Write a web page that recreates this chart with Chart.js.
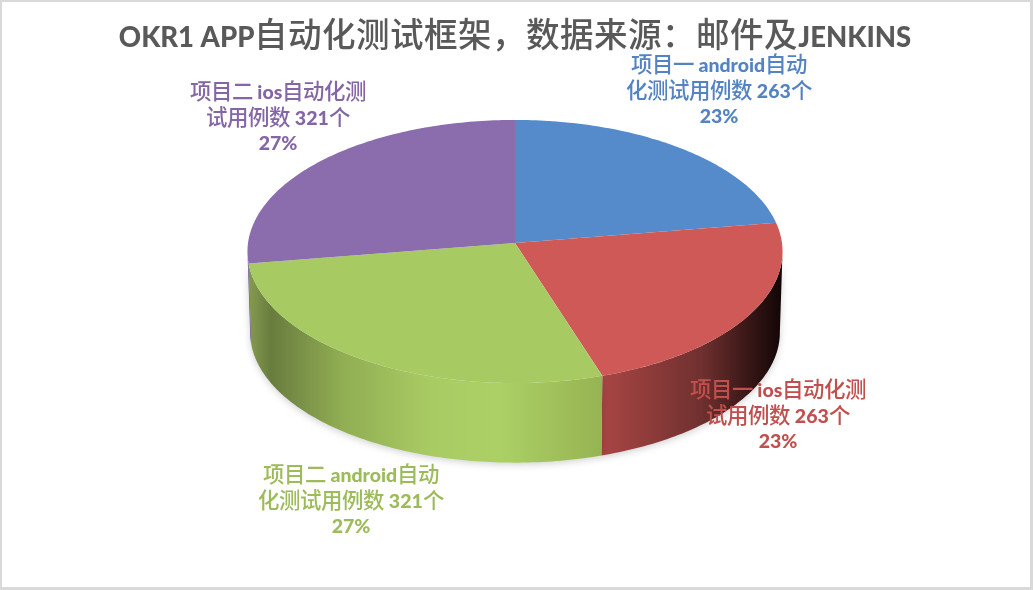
<!DOCTYPE html>
<html>
<head>
<meta charset="utf-8">
<style>
  /* CJK glyphs stay lighter and larger next to the heavy latin text */
  @font-face {
    font-family: "CjkBody";
    src: local("Noto Sans CJK SC Medium"), local("Noto Sans CJK SC");
    font-weight: 700;
    size-adjust: 110%;
    unicode-range: U+2E80-9FFF, U+FF00-FFEF;
  }
  @font-face {
    font-family: "CjkTitle";
    src: local("Noto Sans CJK SC Medium"), local("Noto Sans CJK SC");
    font-weight: 700;
    size-adjust: 122%;
    unicode-range: U+2E80-9FFF, U+FF00-FFEF;
  }
  html, body { margin: 0; padding: 0; background: #fff; }
  #frame {
    position: absolute; left: 0; top: 0; width: 1033px; height: 590px; box-sizing: border-box;
    border-style: solid; border-color: #d9d9d9; border-width: 2px 3px 3px 2px;
  }
  canvas { position: absolute; left: 0; top: 0; }
</style>
</head>
<body>
<div id="frame"></div>
<canvas id="pieChart" width="1033" height="590"></canvas>
<script src="https://cdn.jsdelivr.net/npm/chart.js@4/dist/chart.umd.min.js"></script>
<script>
const titleText = "OKR1 APP自动化测试框架，数据来源：邮件及JENKINS";
const categories = ["项目一 android自动化测试用例数", "项目一 ios自动化测试用例数", "项目二 android自动化测试用例数", "项目二 ios自动化测试用例数"];
const counts = [263, 263, 321, 321];
const percents = ["23%", "23%", "27%", "27%"];
const labelLines = [
  ["项目一 android自动", "化测试用例数 263个", "23%"],
  ["项目一 ios自动化测", "试用例数 263个", "23%"],
  ["项目二 android自动", "化测试用例数 321个", "27%"],
  ["项目二 ios自动化测", "试用例数 321个", "27%"],
];
const topColors = ["#558bcb", "#ce5957", "#a8ca63", "#8b6cad"];
const labelColors = ["#5383c3", "#c0504d", "#9dbb5a", "#8466a6"];

// rim shading per slice, stops are fractions of the pie width
const sideShades = [
  [],
  [[0.66, "#aa4644"], [0.85, "#6f302f"], [0.96, "#2a1010"], [1, "#120606"]],
  [[0.005, "#84994f"], [0.043, "#687c3e"], [0.174, "#90ad53"], [0.342, "#a9cb63"], [0.47, "#acd066"], [0.66, "#97b452"]],
  [[0, "#6a5282"], [1, "#6a5282"]],
];

// fake perspective: squash the flat circle and enlarge what is near the viewer
const tilt = { stretch: 2.038, near: 0.0646, depth: 81, bottomScale: 0.99 };

function project(arc, angle, scale, dy) {
  const u = Math.cos(angle), v = Math.sin(angle);
  const w = 1 - tilt.near * v;
  return {
    x: arc.x + arc.outerRadius * tilt.stretch * scale * u / w,
    y: arc.y + dy + arc.outerRadius * scale * v / w,
  };
}

function traceRim(ctx, arc, from, to, scale, dy) {
  const steps = Math.max(2, Math.ceil(Math.abs(to - from) * 60));
  for (let i = 0; i <= steps; i++) {
    const p = project(arc, from + (to - from) * i / steps, scale, dy);
    ctx.lineTo(p.x, p.y);
  }
}

const pie3d = {
  id: "pie3d",
  beforeDatasetsDraw(chart) {
    const ctx = chart.ctx;
    const arcs = chart.getDatasetMeta(0).data;
    const rimFrom = Math.asin(tilt.near);
    const rimTo = Math.PI - rimFrom;

    arcs.forEach((arc, i) => {
      const a0 = Math.max(arc.startAngle, rimFrom), a1 = Math.min(arc.endAngle, rimTo);
      if (a1 <= a0 || !sideShades[i].length) return;
      const w = arc.outerRadius * tilt.stretch;
      const g = ctx.createLinearGradient(arc.x - w, 0, arc.x + w, 0);
      sideShades[i].forEach(s => g.addColorStop(s[0], s[1]));
      ctx.save();
      ctx.shadowColor = "rgba(0,0,0,0.18)";
      ctx.shadowBlur = 7;
      ctx.shadowOffsetY = 2;
      ctx.fillStyle = g;
      ctx.beginPath();
      traceRim(ctx, arc, a0, a1, 1, 0);
      traceRim(ctx, arc, a1, a0, tilt.bottomScale, tilt.depth);
      ctx.closePath();
      ctx.fill();
      ctx.restore();
    });

    arcs.forEach((arc, i) => {
      const hub = project(arc, 0, 0, 0);
      ctx.fillStyle = topColors[i];
      ctx.beginPath();
      ctx.moveTo(hub.x, hub.y);
      traceRim(ctx, arc, arc.startAngle, arc.endAngle, 1, 0);
      ctx.closePath();
      ctx.fill();
    });
    return false;
  },
  afterDraw(chart, args, opts) {
    const ctx = chart.ctx;
    ctx.save();
    ctx.font = opts.font;
    ctx.textAlign = "center";
    ctx.textBaseline = "middle";
    labelLines.forEach((lines, i) => {
      ctx.fillStyle = labelColors[i];
      lines.forEach((line, j) => {
        ctx.fillText(line, opts.anchors[i][0], opts.anchors[i][1] + j * opts.lineHeight);
      });
    });
    ctx.restore();
  },
};

function drawChart() {
  new Chart(document.getElementById("pieChart"), {
    type: "pie",
    data: {
      labels: categories,
      datasets: [{ data: counts, backgroundColor: topColors, borderWidth: 0 }],
    },
    options: {
      responsive: false,
      animation: false,
      layout: { padding: { top: 0, left: 0, right: 3, bottom: 216 } },
      plugins: {
        legend: { display: false },
        tooltip: { enabled: false },
        title: {
          display: true,
          text: titleText,
          color: "#595959",
          font: { family: 'Lato, CjkTitle, "Noto Sans CJK SC", sans-serif', size: 27.5, weight: "900", lineHeight: 1.2 },
          padding: { top: 21.5, bottom: 57.5 },
        },
        pie3d: {
          font: '900 19.5px Lato, CjkBody, "Noto Sans CJK SC", sans-serif',
          lineHeight: 25.5,
          anchors: [[719, 66], [778, 391], [351, 476], [278, 93]],
        },
      },
    },
    plugins: [pie3d],
  });
}

Promise.all([
  document.fonts.load("bold 20px CjkBody", "自"),
  document.fonts.load("bold 28px CjkTitle", "自"),
]).then(drawChart, drawChart);
</script>
</body>
</html>
